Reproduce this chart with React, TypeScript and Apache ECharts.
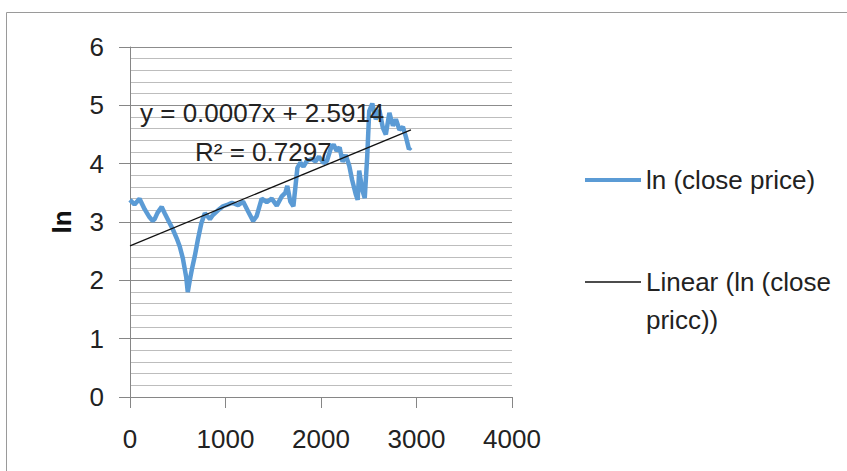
import React, { useEffect, useRef } from "react";
import * as echarts from "echarts";

const dayIndex = [
  0, 47, 100, 153, 205, 237, 258, 289, 332, 363, 416, 447, 489, 521, 553, 589, 605, 626, 647, 679,
  711, 747, 784, 837, 868, 921, 974, 1026, 1068, 1132, 1184, 1237, 1289, 1326, 1379, 1432, 1484, 1537, 1589, 1626,
  1647, 1679, 1711, 1732, 1753, 1784, 1816, 1853, 1905, 1942, 1979, 2026, 2063, 2100, 2132, 2163, 2195, 2226, 2258, 2295,
  2326, 2363, 2384, 2400, 2432, 2458, 2484, 2505, 2537, 2574, 2611, 2647, 2679, 2716, 2753, 2784, 2821, 2858, 2889, 2921,
  2942,
];
const lnClose = [
  3.38, 3.30, 3.40, 3.22, 3.08, 3.02, 3.05, 3.16, 3.26, 3.15, 2.98, 2.88, 2.72, 2.58, 2.38, 2.05, 1.80, 2.00, 2.18, 2.42,
  2.70, 2.98, 3.15, 3.05, 3.12, 3.20, 3.27, 3.30, 3.33, 3.29, 3.35, 3.18, 3.02, 3.10, 3.40, 3.34, 3.40, 3.28, 3.44, 3.50,
  3.62, 3.35, 3.27, 3.60, 3.93, 4.02, 3.95, 4.05, 4.08, 4.04, 4.12, 4.01, 4.05, 4.25, 4.33, 4.22, 4.28, 4.03, 4.15, 3.97,
  3.72, 3.48, 3.38, 3.88, 3.55, 3.41, 4.12, 4.90, 5.03, 4.76, 4.92, 4.62, 4.50, 4.87, 4.65, 4.76, 4.58, 4.63, 4.46, 4.25,
  4.28,
];
// Linear trend line end points
const trendX = [0, 2942];
const trendY = [2.59, 4.58];

const seriesName = "ln (close price)";
const trendName = "Linear (ln (close\npricc))";
const equationText = "y = 0.0007x + 2.5914";
const r2Text = "R² = 0.7297";
const yAxisName = "ln";

const FONT = "'Liberation Sans', Arial, sans-serif";
const FS = 26;

export default function App() {
  const ref = useRef<HTMLDivElement>(null);
  useEffect(() => {
    if (!ref.current) return;
    const chart = echarts.init(ref.current, undefined, { renderer: "svg" });
    const mainData = dayIndex.map((x, i) => [x, lnClose[i]]);
    const trendData = trendX.map((x, i) => [x, trendY[i]]);
    chart.setOption({
      animation: false,
      backgroundColor: "#ffffff",
      textStyle: { fontFamily: FONT },
      grid: { left: 130, right: 335, top: 47, bottom: 74, containLabel: false },
      xAxis: {
        type: "value",
        min: 0,
        max: 4000,
        interval: 1000,
        axisLine: { show: true, lineStyle: { color: "#868686", width: 1 } },
        axisTick: { show: true, length: 11, lineStyle: { color: "#868686" } },
        axisLabel: {
          color: "#222",
          fontSize: FS,
          margin: 29,
          fontFamily: FONT,
          formatter: (v: number) => String(v),
        },
        splitLine: { show: false },
      },
      yAxis: {
        type: "value",
        min: 0,
        max: 6,
        interval: 1,
        name: yAxisName,
        nameLocation: "middle",
        nameGap: 55,
        nameRotate: 90,
        nameTextStyle: { fontSize: 26, fontWeight: "bold", color: "#111", fontFamily: FONT },
        axisLine: { show: true, lineStyle: { color: "#868686", width: 1 } },
        axisTick: { show: true, length: 11, lineStyle: { color: "#868686" } },
        axisLabel: { color: "#222", fontSize: FS, margin: 26, fontFamily: FONT },
        splitLine: { show: true, lineStyle: { color: "#8c8c8c", width: 1 } },
        minorTick: { show: false, splitNumber: 5 },
        minorSplitLine: { show: true, lineStyle: { color: "#bdbdbd", width: 1 } },
      },
      legend: [
        {
          data: [{ name: seriesName, icon: "rect" }],
          left: 585,
          top: 161,
          padding: 0,
          itemWidth: 56,
          itemHeight: 4,
          textStyle: { fontSize: FS, color: "#222", lineHeight: 38, fontFamily: FONT },
        },
        {
          data: [{ name: trendName, icon: "rect" }],
          left: 585,
          top: 225,
          padding: 0,
          itemWidth: 56,
          itemHeight: 1.4,
          formatter: (n: string) => "\n" + n,
          textStyle: { fontSize: FS, color: "#222", lineHeight: 38, fontFamily: FONT },
        },
      ],
      graphic: [
        {
          type: "rect",
          shape: { x: 6.5, y: 12.5, width: 900, height: 520 },
          style: { fill: "none", stroke: "#9a9a9a", lineWidth: 1 },
          silent: true,
          z: -10,
        },
        {
          type: "text",
          x: 140,
          y: 113,
          style: {
            text: equationText,
            fontSize: FS,
            fontFamily: FONT,
            fill: "#222",
            verticalAlign: "middle",
            align: "left",
          },
          z: 100,
        },
        {
          type: "text",
          x: 195,
          y: 152,
          style: {
            text: r2Text,
            fontSize: FS,
            fontFamily: FONT,
            fill: "#222",
            verticalAlign: "middle",
            align: "left",
          },
          z: 100,
        },
      ],
      series: [
        {
          name: seriesName,
          type: "line",
          data: mainData,
          symbol: "none",
          showSymbol: false,
          lineStyle: { color: "#5B9BD5", width: 4.5 },
          itemStyle: { color: "#5B9BD5" },
          z: 2,
        },
        {
          name: trendName,
          type: "line",
          data: trendData,
          symbol: "none",
          showSymbol: false,
          lineStyle: { color: "#111111", width: 1.3 },
          itemStyle: { color: "#111111" },
          z: 3,
        },
      ],
    });
    return () => chart.dispose();
  }, []);
  return (
    <div
      ref={ref}
      style={{ position: "absolute", left: 0, top: 0, width: 847, height: 471 }}
    />
  );
}
